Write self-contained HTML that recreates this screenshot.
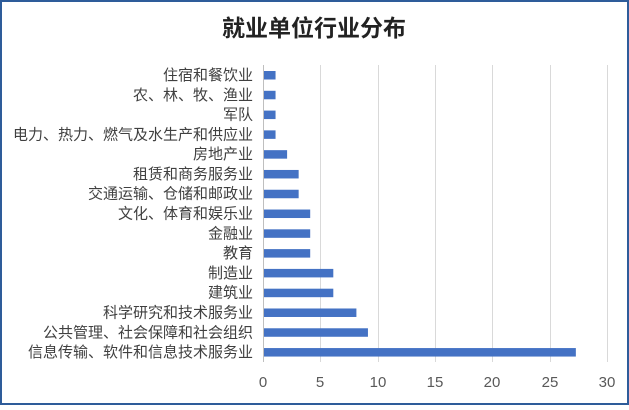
<!DOCTYPE html><html><head><meta charset="utf-8"><style>body{margin:0;background:#fff}</style></head><body>
<svg width="629" height="405" xmlns="http://www.w3.org/2000/svg" font-family="Liberation Sans, Noto Sans CJK SC, sans-serif">
<rect x="1" y="1" width="627" height="403" fill="#fff" stroke="#2e5c9a" stroke-width="2"/>
<text x="314" y="36" text-anchor="middle" font-size="23" font-weight="bold" fill="#222">就业单位行业分布</text>
<g stroke="#d9d9d9" stroke-width="1">
<line x1="320.5" y1="65" x2="320.5" y2="362"/><line x1="378.5" y1="65" x2="378.5" y2="362"/><line x1="435.5" y1="65" x2="435.5" y2="362"/><line x1="492.5" y1="65" x2="492.5" y2="362"/><line x1="550.5" y1="65" x2="550.5" y2="362"/><line x1="607.5" y1="65" x2="607.5" y2="362"/>
<line x1="263.5" y1="65" x2="263.5" y2="362" stroke="#bfbfbf"/>
</g>
<g font-size="15" fill="#595959" text-anchor="middle">
<text x="263" y="387">0</text><text x="320" y="387">5</text><text x="378" y="387">10</text><text x="435" y="387">15</text><text x="492" y="387">20</text><text x="550" y="387">25</text><text x="607" y="387">30</text>
</g>
<g font-size="15" fill="#404040" text-anchor="end" id="l"></g>
<g fill="#4472c4" id="b"></g>
<script>
var d=[["住宿和餐饮业",1],["农、林、牧、渔业",1],["军队",1],["电力、热力、燃气及水生产和供应业",1],["房地产业",2],["租赁和商务服务业",3],["交通运输、仓储和邮政业",3],["文化、体育和娱乐业",4],["金融业",4],["教育",4],["制造业",6],["建筑业",6],["科学研究和技术服务业",8],["公共管理、社会保障和社会组织",9],["信息传输、软件和信息技术服务业",27]];
var ns="http://www.w3.org/2000/svg",l=document.getElementById('l'),b=document.getElementById('b');
d.forEach(function(r,i){var y=75+i*19.79;var t=document.createElementNS(ns,'text');t.setAttribute('x',253);t.setAttribute('y',y+5);t.textContent=r[0];l.appendChild(t);
var q=document.createElementNS(ns,'rect');q.setAttribute('x',264);q.setAttribute('y',y-4);q.setAttribute('height',8.5);q.setAttribute('width',r[1]*11.55);b.appendChild(q);});
</script>
</svg></body></html>
